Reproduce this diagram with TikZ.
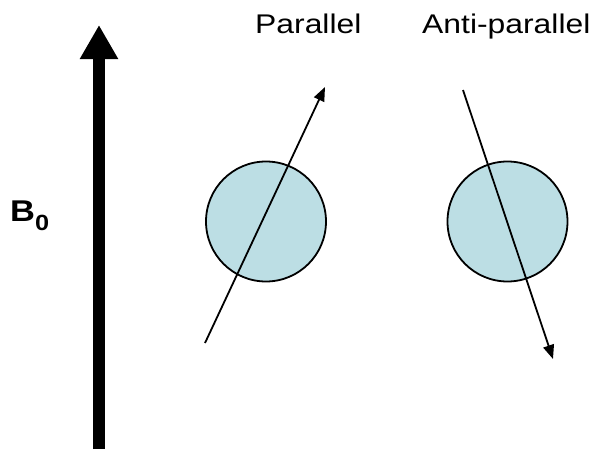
\documentclass[tikz,border=0pt]{standalone}
\usepackage{fontspec}
\setmainfont{Liberation Sans}
\usetikzlibrary{arrows.meta}
\definecolor{ballblue}{RGB}{188,222,228}
\begin{document}
\begin{tikzpicture}[x=1pt,y=-1pt,
  ball/.style={circle, draw=black, line width=1.8pt, fill=ballblue, minimum size=120pt, inner sep=0pt},
  spin/.style={line width=1.8pt, -{Triangle[length=14pt,width=11pt]}},
  field/.style={line width=12.5pt, -{Triangle[length=34pt,width=36pt]}},
  lbl/.style={inner sep=0pt, anchor=base west, font=\fontsize{27}{27}\selectfont}]
\useasboundingbox (0,0) rectangle (592,450);
% magnetic field arrow
\coordinate (fbot) at (99,449);
\coordinate (ftop) at (99,25);
\draw[field] (fbot) -- (ftop);
\node[inner sep=0pt, anchor=base west] (b0) at (10,221)
  {\scalebox{1.15}[1]{\fontsize{30}{30}\selectfont\bfseries B\raisebox{-9pt}{\fontsize{22}{22}\selectfont 0}}};
% labels
\node[lbl] (par) at (255,33) {\scalebox{1.18}[1]{Parallel}};
\node[lbl] (anti) at (422,33) {\scalebox{1.18}[1]{Anti-parallel}};
% nuclei
\node[ball] (n1) at (266,221.5) {};
\node[ball] (n2) at (507.5,221.5) {};
% spins
\coordinate (p1) at (205,343);
\coordinate (p2) at (325,87);
\coordinate (a1) at (463,90);
\coordinate (a2) at (553,359);
\draw[spin] (p1) -- (p2);
\draw[spin] (a1) -- (a2);
\end{tikzpicture}
\end{document}
